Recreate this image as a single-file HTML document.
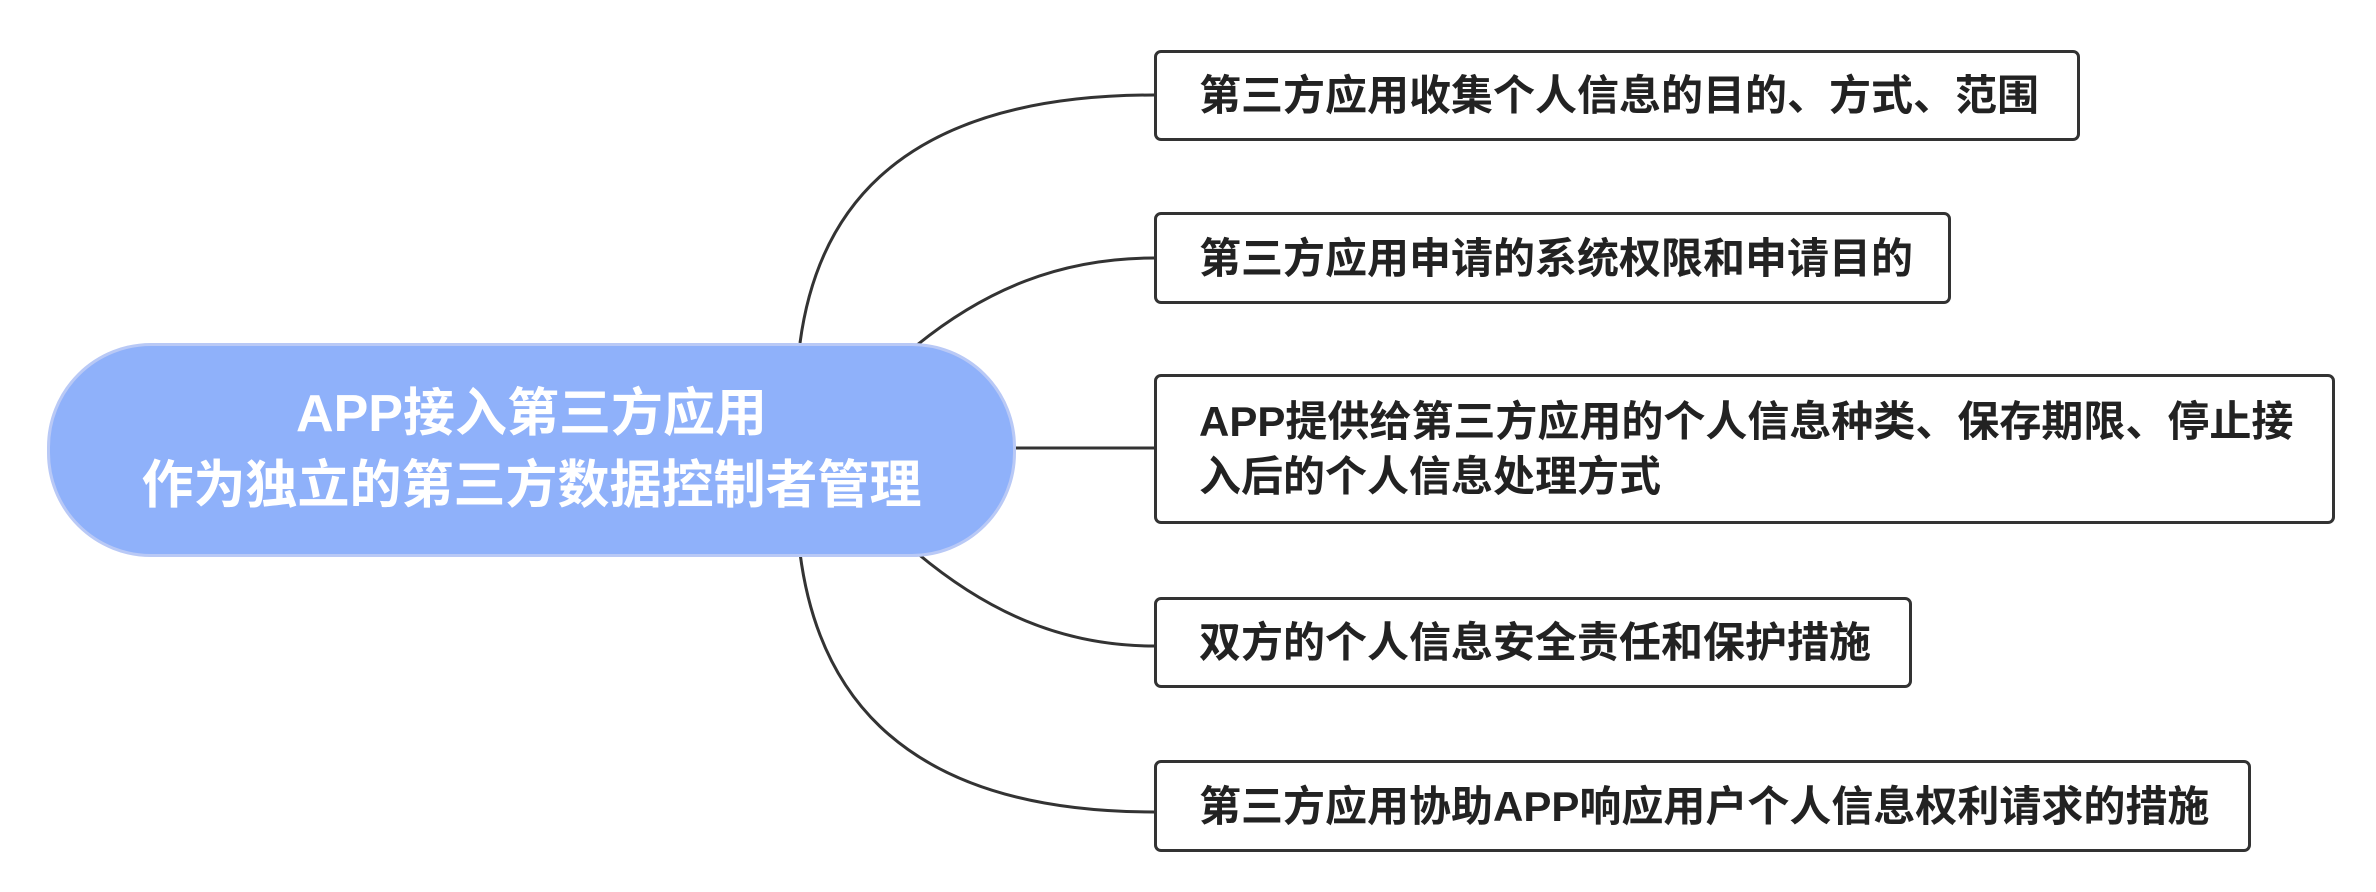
<!DOCTYPE html>
<html><head><meta charset="utf-8"><style>
html,body{margin:0;padding:0;background:#fff;}
body{width:2376px;height:892px;position:relative;overflow:hidden;font-family:"Liberation Sans","Noto Sans CJK SC",sans-serif;}
.pill{position:absolute;left:47px;top:343px;width:963px;height:208px;border-radius:104px;background:#8fb1fa;border:3px solid #b9c9f6;color:#fff;font-weight:bold;font-size:52px;text-align:center;display:flex;flex-direction:column;justify-content:center;line-height:72px;}
.box{position:absolute;left:1154px;border:3px solid #333;border-radius:7px;background:#fff;box-sizing:border-box;font-weight:bold;font-size:42px;color:#222;padding-left:42px;display:flex;align-items:center;line-height:55px;}
svg{position:absolute;left:0;top:0;}
</style></head><body>
<svg width="2376" height="892">
<g fill="none" stroke="#333" stroke-width="3">
<path d="M800,343 C815,230 880,95 1154,95"/>
<path d="M917,345 C985,290 1060,258 1154,258"/>
<path d="M1012,448 L1154,448"/>
<path d="M917,553 C985,610 1060,646 1154,646"/>
<path d="M800,553 C815,670 880,812 1154,812"/>
</g>
</svg>
<div class="pill"><div>APP接入第三方应用</div><div>作为独立的第三方数据控制者管理</div></div>
<div class="box" style="top:50px;width:926px;height:91px;">第三方应用收集个人信息的目的、方式、范围</div>
<div class="box" style="top:212px;width:797px;height:92px;">第三方应用申请的系统权限和申请目的</div>
<div class="box" style="top:374px;width:1181px;height:150px;">APP提供给第三方应用的个人信息种类、保存期限、停止接<br>入后的个人信息处理方式</div>
<div class="box" style="top:597px;width:758px;height:91px;">双方的个人信息安全责任和保护措施</div>
<div class="box" style="top:760px;width:1097px;height:92px;">第三方应用协助APP响应用户个人信息权利请求的措施</div>
</body></html>
